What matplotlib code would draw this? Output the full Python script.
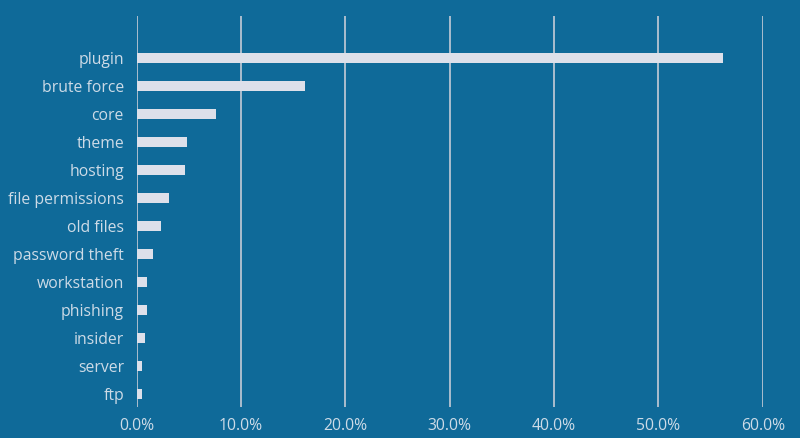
import matplotlib
matplotlib.use("Agg")
import matplotlib.pyplot as plt
from matplotlib.ticker import FuncFormatter

categories = ["plugin", "brute force", "core", "theme", "hosting", "file permissions",
              "old files", "password theft", "workstation", "phishing", "insider",
              "server", "ftp"]
shares = [56.2, 16.1, 7.6, 4.8, 4.6, 3.1, 2.3, 1.55, 1.0, 1.0, 0.8, 0.55, 0.55]
xticks = [0, 10, 20, 30, 40, 50, 60]

bg = "#0f6a99"
bar_col = "#dde0ea"
text_col = "#cddbe7"
grid_col = "#b7c4d2"

fig = plt.figure(figsize=(8, 4.38), dpi=100, facecolor=bg)
ax = fig.add_axes([136.5 / 800, 1 - 407 / 438, (762.7 - 136.5) / 800, (407 - 16) / 438])
ax.set_facecolor(bg)

ypos = list(range(len(categories)))
ax.barh(ypos, shares, height=0.34, color=bar_col, zorder=3)

ax.set_xlim(0, 60)
ax.set_ylim(12.46, -1.5)
ax.set_xticks(xticks)
ax.xaxis.set_major_formatter(FuncFormatter(lambda v, p: "%.1f%%" % v))
ax.set_yticks(ypos)
ax.set_yticklabels(categories)

for v in xticks:
    ax.axvline(v, color=grid_col, lw=1.3, zorder=1)

for s in ax.spines.values():
    s.set_visible(False)
ax.tick_params(axis="both", length=0, colors=text_col, labelsize=11.3)
ax.tick_params(axis="x", pad=8)
ax.tick_params(axis="y", pad=9)
for lbl in ax.get_xticklabels() + ax.get_yticklabels():
    lbl.set_family("Open Sans")

fig.savefig("out.png", dpi=100, facecolor=bg)
